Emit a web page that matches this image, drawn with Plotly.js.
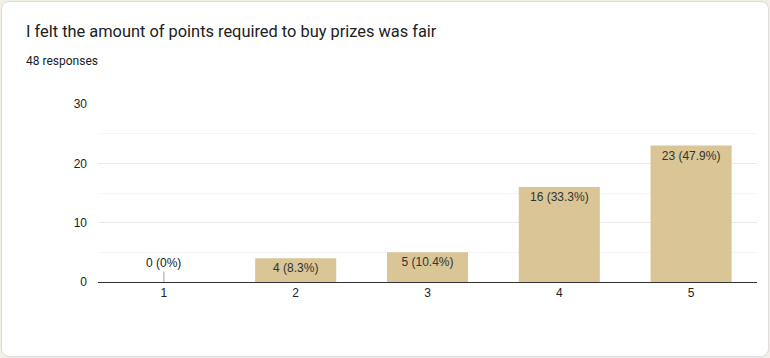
<!DOCTYPE html>
<html>
<head>
<meta charset="utf-8">
<script src="https://cdn.plot.ly/plotly-3.0.1.min.js"></script>
<style>
  html, body { margin: 0; padding: 0; background: #f3efe6; }
  #wrap { position: relative; width: 770px; height: 358px; }
  #card { position: absolute; left: 1px; top: 1px; width: 766px; height: 354px;
          background: #ffffff; border: 1px solid #dadce0; border-radius: 8px; }
  #chart { position: absolute; left: 0; top: 0; width: 770px; height: 358px; }
</style>
</head>
<body>
<div id="wrap"><div id="card"></div><div id="chart"></div></div>
<script>
const titleText = "I felt the amount of points required to buy prizes was fair";
const subtitleText = "48 responses";
const categories = ["1", "2", "3", "4", "5"];
const counts = [0, 4, 5, 16, 23];
const yTicks = [0, 10, 20, 30];

const chartFont = "Arial, 'Liberation Sans', sans-serif";
const total = counts.reduce((a, b) => a + b, 0);
function label(v) {
  let p = (v / total * 100).toFixed(1).replace(/\.0$/, "");
  return v + " (" + p + "%)";
}
const barText = counts.map(v => v === 0 ? "" : label(v));

const zeroAnns = [];
counts.forEach((v, i) => {
  if (v === 0) {
    zeroAnns.push({
      x: i, y: 0, xref: "x", yref: "y",
      text: label(v), showarrow: true, arrowhead: 0, arrowwidth: 1,
      arrowcolor: "#9e9e9e", ax: 0, ay: -19,
      font: { family: chartFont, size: 12, color: "#222" }
    });
  }
});

const trace = {
  type: "bar",
  x: categories,
  y: counts,
  text: barText,
  textposition: "inside",
  insidetextanchor: "end",
  constraintext: "none",
  textangle: 0,
  textfont: { family: chartFont, size: 12, color: "#333" },
  marker: { color: "#d9c595" },
  width: 0.615,
  hoverinfo: "none"
};

const layout = {
  width: 770, height: 358,
  margin: { l: 98, r: 13, t: 104, b: 76 },
  paper_bgcolor: "rgba(0,0,0,0)",
  plot_bgcolor: "rgba(0,0,0,0)",
  font: { family: chartFont, size: 12, color: "#444" },
  showlegend: false,
  title: {
    text: titleText,
    xref: "container", yref: "container",
    x: 26 / 770, xanchor: "left",
    y: 1 - 31 / 358, yanchor: "middle",
    font: { family: "Roboto, Arial, sans-serif", size: 16.4, color: "#202124" }
  },
  xaxis: {
    type: "category",
    showline: true, linecolor: "#333", linewidth: 1,
    showgrid: false, ticks: "", zeroline: false,
    tickfont: { family: chartFont, size: 12, color: "#222" }
  },
  yaxis: {
    range: [0, 30],
    tickvals: yTicks,
    showline: false, zeroline: false,
    gridcolor: "#ebebeb",
    minor: { dtick: 5, showgrid: true, gridcolor: "#f5f5f5" },
    tickfont: { family: chartFont, size: 12, color: "#222" },
    ticklabelstandoff: 10
  },
  annotations: [
    {
      text: subtitleText, xref: "paper", yref: "paper",
      x: (24 - 98) / 659, xanchor: "left",
      y: (282 - 61) / 178, yanchor: "middle",
      showarrow: false,
      font: { family: "Roboto, Arial, sans-serif", size: 12, color: "#202124" }
    }
  ].concat(zeroAnns)
};

Plotly.newPlot("chart", [trace], layout, { displayModeBar: false, staticPlot: true });
</script>
</body>
</html>
